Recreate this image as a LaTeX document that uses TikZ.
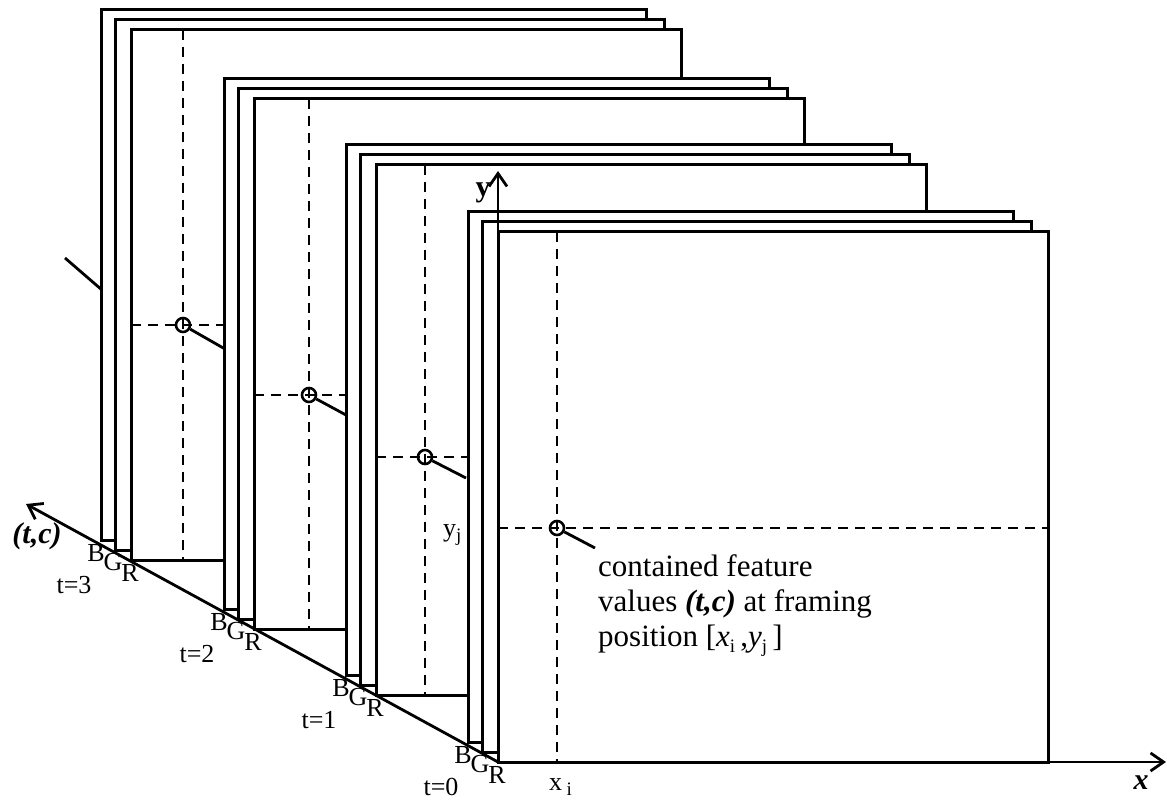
\documentclass[tikz,border=0pt]{standalone}
\usepackage{fontspec}
\setmainfont{Liberation Serif}
\usetikzlibrary{arrows.meta}
\newcommand{\lowsub}[1]{\raisebox{-0.45ex}{\fontsize{19}{19}\selectfont #1}}
\begin{document}
\begin{tikzpicture}[x=1pt,y=-1pt,
  frame/.style={draw=black,fill=white,line width=3pt},
  guide/.style={line width=2.8pt,dash pattern=on 10pt off 7pt},
  lead/.style={line width=2.8pt},
  axisline/.style={line width=2.8pt,-{Straight Barb[length=13pt,width=18pt,line width=2.8pt]}},
  pix/.style={circle,draw,line width=2.6pt,minimum size=14pt,inner sep=0pt},
  chan/.style={font=\fontsize{26}{26}\selectfont,inner sep=0pt},
  tlabel/.style={font=\fontsize{26}{26}\selectfont,inner sep=0pt},
  axlabel/.style={font=\fontsize{30}{30}\selectfont\bfseries,inner sep=0pt},
  caption/.style={font=\fontsize{31}{31}\selectfont,inner sep=0pt,anchor=base west}
]
\useasboundingbox (0,0) rectangle (1167,802);

% part of the feature line behind the last frames
\coordinate (f0) at (65,258);
\coordinate (f1) at (102,290);
\draw[lead] (f0) -- (f1);

\foreach \k/\L/\T/\vx/\hy/\ex/\ey in {3/131/30/183/325/225/349, 2/254/99/309/395/346/415, 1/376/165/425/457/466/478, 0/498/232/557/528/595/548} {
  \draw[frame] (\L-30,\T-20) rectangle ++(545,530);
  \draw[frame] (\L-16,\T-10) rectangle ++(549,530);
  \draw[frame] (\L,\T) rectangle ++(550,530);
  \draw[guide] (\vx,\T) -- (\vx,\T+530);
  \draw[guide] (\L,\hy) -- (\L+550,\hy);
  \node[pix] (p\k) at (\vx,\hy) {};
  \coordinate (e\k) at (\ex,\ey);
  \draw[lead] (p\k) -- (e\k);
  \node[chan] (B\k) at (\L-35,\T+523) {B};
  \node[chan] (G\k) at (\L-18,\T+532) {G};
  \node[chan] (R\k) at (\L-1,\T+543) {R};
  \node[tlabel] (t\k) at (\L-57,\T+555) {t=\k};
}

% axes
\coordinate (O) at (498,762);
\coordinate (xend) at (1166,762);
\coordinate (yend) at (498,171);
\coordinate (tend) at (26,504);
\draw[axisline] (O) -- (xend);
\draw[axisline] (O) -- (yend);
\draw[axisline] (O) -- (tend);

\node[axlabel] (xlab) at (1141,783) {\itshape x};
\node[axlabel] (ylab) at (483,193) {y};
\node[axlabel] (tclab) at (37,536) {\itshape (t,c)};

\node[font=\fontsize{26}{26}\selectfont,inner sep=0pt,anchor=base west] (xi) at (549,790) {x\,\lowsub{i}};
\node[font=\fontsize{26}{26}\selectfont,inner sep=0pt,anchor=base west] (yj) at (443,536) {y\lowsub{j}};

\node[caption] (c1) at (598,576) {contained feature};
\node[caption] (c2) at (598,611) {values \textbf{\textit{(t,c)}} at framing};
\node[caption] (c3) at (598,646) {position [\textit{x}\lowsub{i}\,,\textit{y}\lowsub{j}\,]};
\end{tikzpicture}
\end{document}
